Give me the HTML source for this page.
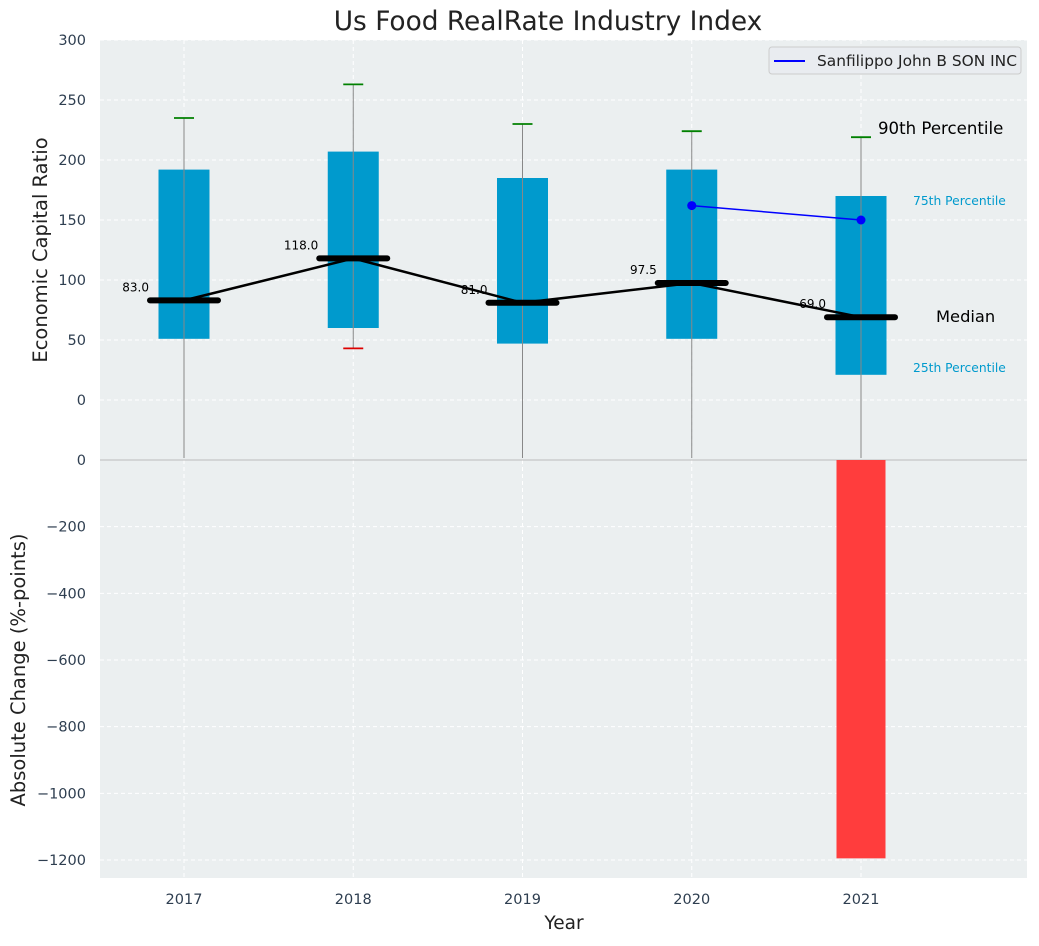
<!DOCTYPE html>
<html><head><meta charset="utf-8"><style>
body{margin:0;background:#fff;font-family:"DejaVu Sans","Liberation Sans",sans-serif}
svg text{font-family:"DejaVu Sans","Liberation Sans",sans-serif}
</style></head><body>
<svg id="c" width="1039" height="942" xmlns="http://www.w3.org/2000/svg"></svg>
<script>
const years=[2017,2018,2019,2020,2021];
const q25=[51,60,47,51,21];
const q75=[192,207,185,192,170];
const p90=[235,263,230,224,219];
const p10=[-60,43,-60,-60,-60];
const medians=[83,118,81,97.5,69];
const medianLabels=["83.0","118.0","81.0","97.5","69.0"];
const companyYears=[2020,2021];
const companyVals=[162,150];
const changeYears=[2021];
const changeVals=[-1195];
const topTicks=[0,50,100,150,200,250,300];
const botTicks=[0,-200,-400,-600,-800,-1000,-1200];

const NS="http://www.w3.org/2000/svg";
const svg=document.getElementById('c');
function el(t,a,p){const e=document.createElementNS(NS,t);for(const k in a)e.setAttribute(k,a[k]);(p||svg).appendChild(e);return e;}
const L=100,R=1027;
const x=v=>184+(v-2017)*169.25;
const yT=v=>400-v*1.2;
const yB=v=>460-v*(400/1200);
let e=el('rect',{x:L,y:40,width:R-L,height:420,fill:'#ebeff0'});

e=el('rect',{x:L,y:460,width:R-L,height:418,fill:'#ebeff0'});

const g=el('g',{stroke:'#fff','stroke-dasharray':'4,3','stroke-width':1});

topTicks.forEach(t=>el('line',{x1:L,x2:R,y1:yT(t),y2:yT(t)},g));
botTicks.forEach(t=>el('line',{x1:L,x2:R,y1:yB(t),y2:yB(t)},g));
years.forEach(yr=>el('line',{x1:x(yr),x2:x(yr),y1:40,y2:878},g));
el('line',{x1:L,x2:R,y1:460,y2:460,stroke:'#bbb','stroke-width':1});
topTicks.forEach(t=>{e=el('text',{x:L-14,y:yT(t)+5,'text-anchor':'end','font-size':14.5,fill:'#2e3e50'});e.textContent=t;
});
botTicks.forEach(t=>{e=el('text',{x:L-14,y:yB(t)+5,'text-anchor':'end','font-size':14.5,fill:'#2e3e50'});e.textContent=t<0?'\u2212'+(-t):t;
});
years.forEach(yr=>{e=el('text',{x:x(yr),y:904,'text-anchor':'middle','font-size':14.5,fill:'#2e3e50'});e.textContent=yr;
});
const bw=51;
years.forEach((yr,i)=>{
  const cx=x(yr);
  e=el('rect',{x:cx-bw/2,y:yT(q75[i]),width:bw,height:yT(q25[i])-yT(q75[i]),fill:'#009acd'});
  
  e=el('line',{x1:cx,x2:cx,y1:yT(p90[i]),y2:Math.min(yT(p10[i]),458),stroke:'#888','stroke-width':1});
  
  e=el('line',{x1:cx-10,x2:cx+10,y1:yT(p90[i]),y2:yT(p90[i]),stroke:'green','stroke-width':1.8});
  
  if(yT(p10[i])<458){e=el('line',{x1:cx-10,x2:cx+10,y1:yT(p10[i]),y2:yT(p10[i]),stroke:'#d00','stroke-width':1.8});
  }
});
e=el('polyline',{points:years.map((yr,i)=>x(yr)+','+yT(medians[i])).join(' '),fill:'none',stroke:'#000','stroke-width':2.5});

years.forEach((yr,i)=>{
  e=el('line',{x1:x(yr)-34,x2:x(yr)+34,y1:yT(medians[i]),y2:yT(medians[i]),stroke:'#000','stroke-width':6,'stroke-linecap':'round'});
  
  e=el('text',{x:x(yr)-35,y:yT(medians[i])-9,'text-anchor':'end','font-size':12,fill:'#000'});e.textContent=medianLabels[i];
  
});
e=el('polyline',{points:companyYears.map((yr,i)=>x(yr)+','+yT(companyVals[i])).join(' '),fill:'none',stroke:'blue','stroke-width':1.5});

companyYears.forEach((yr,i)=>{e=el('circle',{cx:x(yr),cy:yT(companyVals[i]),r:4.5,fill:'blue'});
});
changeYears.forEach((yr,i)=>{e=el('rect',{x:x(yr)-bw/2+1,y:yB(0),width:bw-2,height:yB(changeVals[i])-yB(0),fill:'#ff3d3d'});
});
function txt(s,a,n){const t=el('text',a);t.textContent=s;return t;}
txt('90th Percentile',{x:878,y:134,'font-size':16.6,fill:'#000'},'p90-annotation');
txt('75th Percentile',{x:913,y:205,'font-size':12.3,fill:'#009acd'},'p75-annotation');
txt('Median',{x:936,y:322,'font-size':16.3,fill:'#000'},'median-annotation');
txt('25th Percentile',{x:913,y:372,'font-size':12.3,fill:'#009acd'},'p25-annotation');
txt('Us Food RealRate Industry Index',{x:548,y:30,'text-anchor':'middle','font-size':26.4,fill:'#222'},'chart-title');
txt('Year',{x:564,y:929,'text-anchor':'middle','font-size':18.5,fill:'#222'},'x-axis-title');
txt('Economic Capital Ratio',{x:47,y:250,'text-anchor':'middle','font-size':19.5,fill:'#222',transform:'rotate(-90 47 250)'},'y-axis-title');
txt('Absolute Change (%-points)',{x:25,y:670,'text-anchor':'middle','font-size':19.5,fill:'#222',transform:'rotate(-90 25 670)'},'y2-axis-title');
const lg=el('g',{});
el('rect',{x:769,y:47,width:252,height:27,rx:3,fill:'#e9ecf0',stroke:'#ccc'},lg);
el('line',{x1:774,x2:805,y1:61,y2:61,stroke:'blue','stroke-width':2},lg);
const lt=el('text',{x:817,y:66,'font-size':15.4,fill:'#222'},lg);lt.textContent='Sanfilippo John B SON INC';

</script>
</body></html>
